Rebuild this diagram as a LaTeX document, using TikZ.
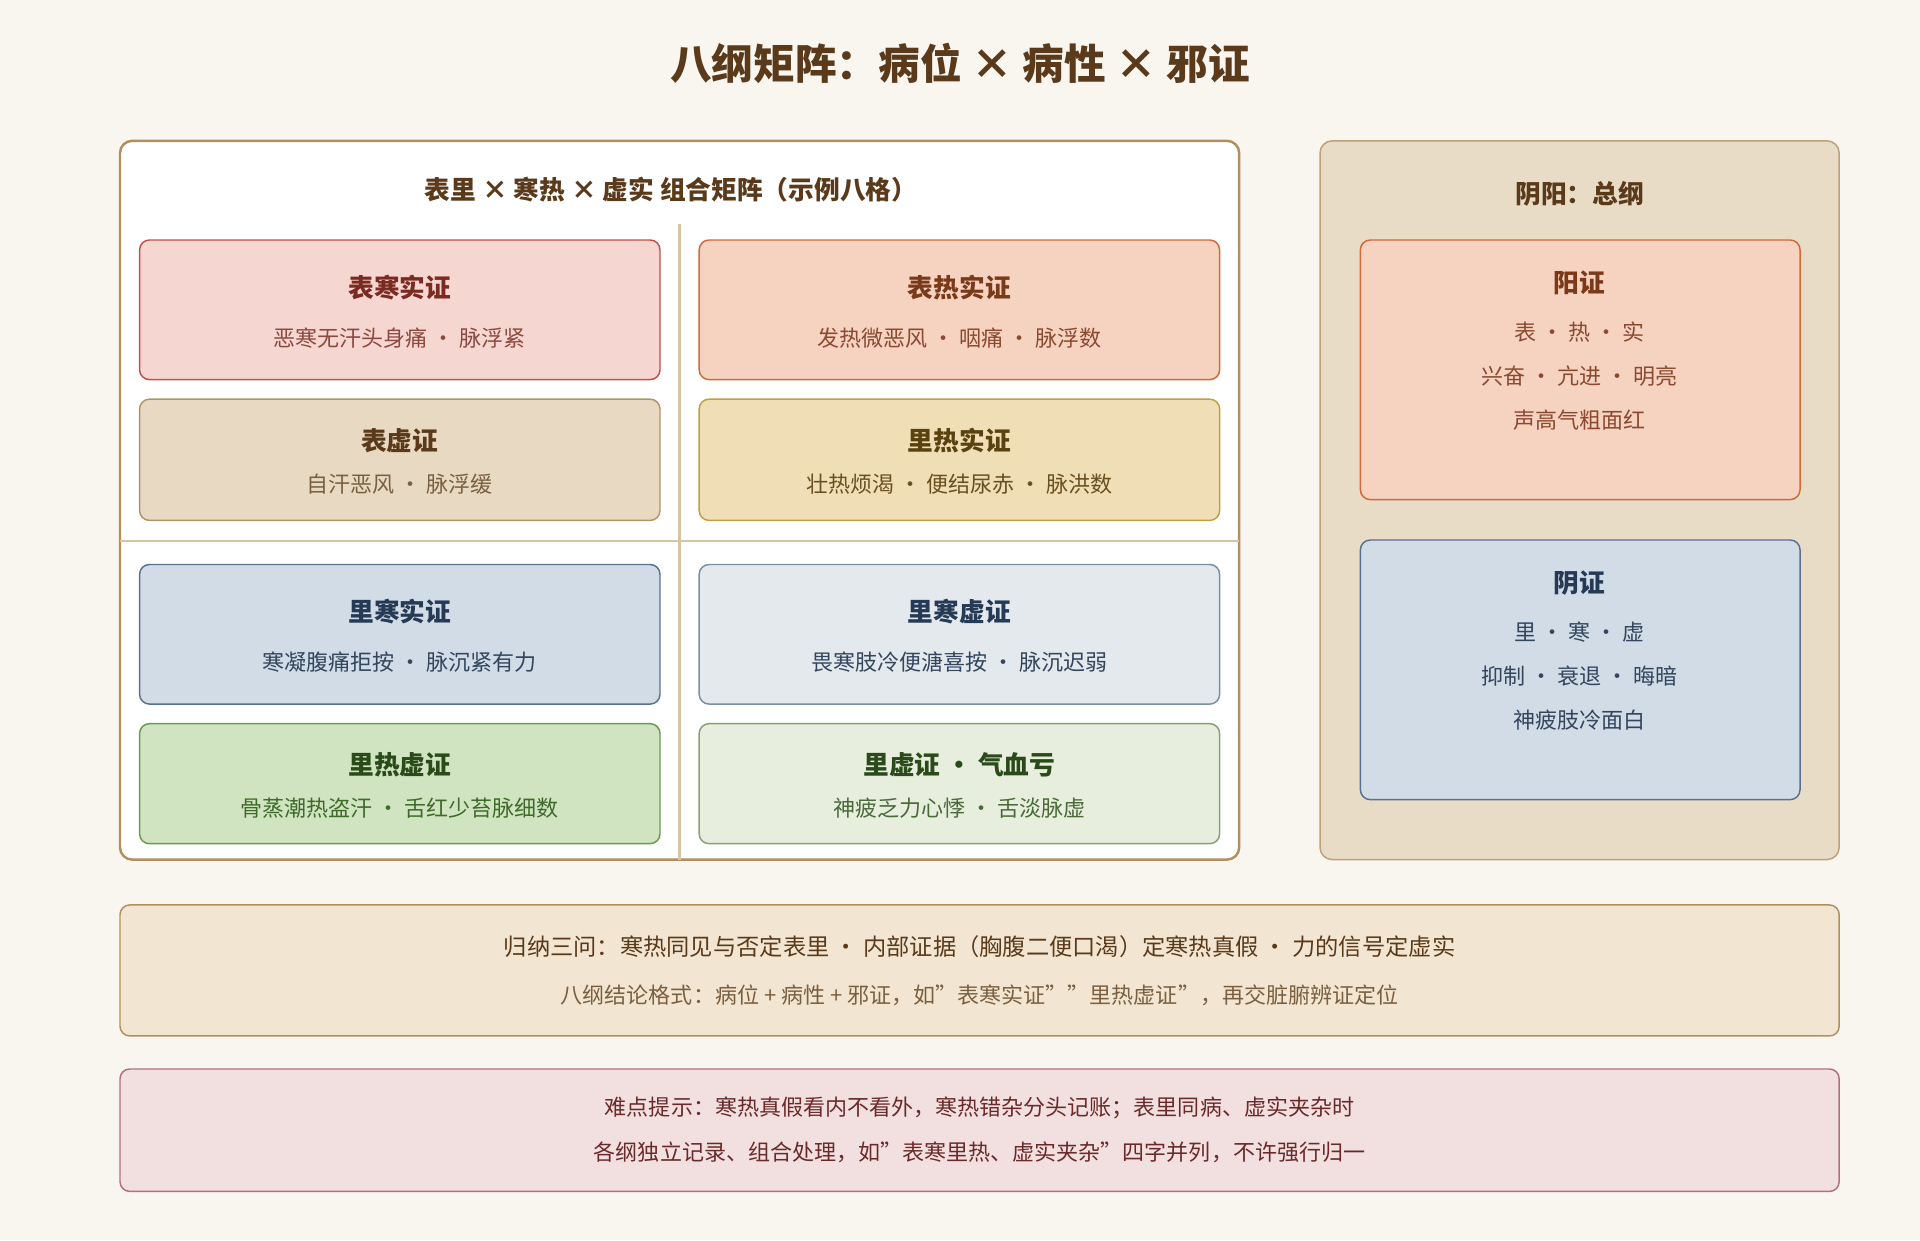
\documentclass[tikz,border=0pt]{standalone}
\usepackage{fontspec}
\setmainfont{Noto Sans CJK SC}
\begin{document}
\begin{tikzpicture}[x=1pt,y=-1pt,
 cell/.style={draw,rounded corners=8pt,line width=1.2pt},
 ttl/.style={font=\fontsize{21}{24}\selectfont\bfseries},
 sub/.style={font=\fontsize{18}{22}\selectfont},
 ]
\definecolor{bg}{HTML}{F9F5EF}
\definecolor{brn}{HTML}{5A3A1A}
\definecolor{tan}{HTML}{B09060}
\definecolor{divc}{HTML}{D8C4A0}
\definecolor{rpf}{HTML}{E8DCC6}
\definecolor{rpd}{HTML}{C0A078}
\definecolor{yangf}{HTML}{F6D2C0}
\definecolor{yangd}{HTML}{D06A3A}
\definecolor{yangt}{HTML}{7A3A1A}
\definecolor{yangs}{HTML}{8A4A30}
\definecolor{yinf}{HTML}{D1DCE6}
\definecolor{yind}{HTML}{5A7090}
\definecolor{yint}{HTML}{253A55}
\definecolor{yins}{HTML}{33465E}
\definecolor{b1f}{HTML}{F2E6D2}
\definecolor{b1s}{HTML}{7A6040}
\definecolor{b2f}{HTML}{F2E0E0}
\definecolor{b2d}{HTML}{B07080}
\definecolor{b2t}{HTML}{6A2A2A}
\fill[bg] (0,0) rectangle (1568,1013);
\useasboundingbox (0,0) rectangle (1568,1013);
\node[font=\fontsize{34}{40}\selectfont\bfseries,text=brn] (title) at (784,52) {八纲矩阵：病位 × 病性 × 邪证};
% left matrix
\draw[fill=white,draw=tan,line width=2pt,rounded corners=10pt] (98,115) rectangle (1012,702);
\node[ttl,text=brn] (mh) at (548,155) {表里 × 寒热 × 虚实 组合矩阵（示例八格）};
\draw[divc,line width=2pt] (555,183) -- (555,702);
\draw[divc,line width=2pt] (98,442) -- (1012,442);
% cells
\newcommand{\mycell}[9]{%
 \definecolor{cf}{HTML}{#5}\definecolor{cd}{HTML}{#6}\definecolor{ct}{HTML}{#7}\definecolor{cs}{HTML}{#8}%
 \draw[cell,fill=cf,draw=cd] (#1,#2) rectangle (#3,#4);
 \node[ttl,text=ct] (#9t) at ({(#1+#3)/2},{#2+ (#4-#2)*0.34}) {\csname cT#9\endcsname};
 \node[sub,text=cs] (#9s) at ({(#1+#3)/2},{#2+ (#4-#2)*0.70}) {\csname cS#9\endcsname};}
\def\cTa{表寒实证}\def\cSa{恶寒无汗头身痛 · 脉浮紧}
\def\cTb{表热实证}\def\cSb{发热微恶风 · 咽痛 · 脉浮数}
\def\cTc{表虚证}\def\cSc{自汗恶风 · 脉浮缓}
\def\cTd{里热实证}\def\cSd{壮热烦渴 · 便结尿赤 · 脉洪数}
\def\cTe{里寒实证}\def\cSe{寒凝腹痛拒按 · 脉沉紧有力}
\def\cTf{里寒虚证}\def\cSf{畏寒肢冷便溏喜按 · 脉沉迟弱}
\def\cTg{里热虚证}\def\cSg{骨蒸潮热盗汗 · 舌红少苔脉细数}
\def\cTh{里虚证 • 气血亏}\def\cSh{神疲乏力心悸 · 舌淡脉虚}
\mycell{114}{196}{539}{310}{F5D6D0}{C0504D}{7A2A20}{8A4A40}{a}
\mycell{571}{196}{996}{310}{F6D2C0}{D06A3A}{7A3A1A}{8A4A30}{b}
\mycell{114}{326}{539}{425}{E8D9C2}{B09468}{5A3A1A}{7A6040}{c}
\mycell{571}{326}{996}{425}{F0DFB6}{C0A040}{5A4210}{6A5020}{d}
\mycell{114}{461}{539}{575}{D1DCE6}{5A7090}{253A55}{33465E}{e}
\mycell{571}{461}{996}{575}{E4E9EE}{7A8EA4}{253A55}{33465E}{f}
\mycell{114}{591}{539}{689}{D1E4C1}{6A9A50}{2A4A1A}{3E6A2A}{g}
\mycell{571}{591}{996}{689}{E7EEDD}{8AA070}{2A4A1A}{4A6A3A}{h}
% right panel
\draw[fill=rpf,draw=rpd,line width=1.2pt,rounded corners=10pt] (1078,115) rectangle (1502,702);
\node[ttl,text=brn] (yy) at (1290,158) {阴阳：总纲};
\draw[cell,fill=yangf,draw=yangd] (1111,196) rectangle (1470,408);
\node[ttl,text=yangt] (yang) at (1290,231) {阳证};
\node[sub,text=yangs] (yang1) at (1290,271) {表 · 热 · 实};
\node[sub,text=yangs] (yang2) at (1290,307) {兴奋 · 亢进 · 明亮};
\node[sub,text=yangs] (yang3) at (1290,343) {声高气粗面红};
\draw[cell,fill=yinf,draw=yind] (1111,441) rectangle (1470,653);
\node[ttl,text=yint] (yin) at (1290,476) {阴证};
\node[sub,text=yins] (yin1) at (1290,516) {里 · 寒 · 虚};
\node[sub,text=yins] (yin2) at (1290,552) {抑制 · 衰退 · 晦暗};
\node[sub,text=yins] (yin3) at (1290,588) {神疲肢冷面白};
% bottom boxes
\draw[cell,fill=b1f,draw=tan] (98,739) rectangle (1502,846);
\node[font=\fontsize{19}{22}\selectfont,text=brn] (s1) at (800,773) {归纳三问：寒热同见与否定表里 · 内部证据（胸腹二便口渴）定寒热真假 · 力的信号定虚实};
\node[sub,text=b1s] (s2) at (800,813) {八纲结论格式：病位 + 病性 + 邪证，如"表寒实证""里热虚证"，再交脏腑辨证定位};
\draw[cell,fill=b2f,draw=b2d] (98,873) rectangle (1502,973);
\node[sub,text=b2t] (n1) at (800,905) {难点提示：寒热真假看内不看外，寒热错杂分头记账；表里同病、虚实夹杂时};
\node[sub,text=b2t] (n2) at (800,941) {各纲独立记录、组合处理，如"表寒里热、虚实夹杂"四字并列，不许强行归一};
\end{tikzpicture}
\end{document}
